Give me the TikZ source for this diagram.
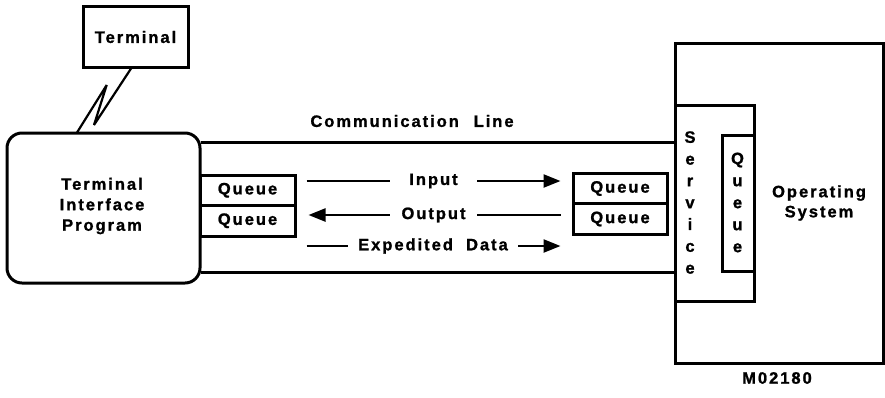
\documentclass[tikz,border=0pt]{standalone}
\usepackage{fontspec}
\setmainfont{Liberation Sans}[LetterSpace=12, BoldFeatures={FakeBold=1.2}]
\usetikzlibrary{arrows.meta}
\tikzset{
  lbl/.style={font=\bfseries\fontsize{16.5}{19}\selectfont, inner sep=0pt},
  box/.style={draw, line width=3pt, fill=white, inner sep=0pt},
  wire/.style={line width=3pt},
  flow/.style={line width=2.4pt},
  tip/.style={-{Triangle[length=17pt,width=13pt]}},
  stack/.style={lbl, align=center, font=\bfseries\fontsize{16.5}{21.8}\selectfont}
}
\begin{document}
\begin{tikzpicture}[x=1pt, y=-1pt]
\useasboundingbox (0,0) rectangle (885,397);

% terminal and terminal interface program
\node[box, minimum width=105pt, minimum height=61pt] (term) at (135.5,37) {};
\node[lbl] at (term) {Terminal};
\node[box, rounded corners=15pt, minimum width=193pt, minimum height=150pt] (tip) at (103.5,208) {};
\node[lbl, align=center, font=\bfseries\fontsize{16.5}{20.5}\selectfont] at (102,206) {Terminal\\Interface\\Program};

% link between terminal and program
\coordinate (lt) at (131.7,67.5);
\coordinate (lb) at (76.7,133);
\draw[line width=2.2pt, line join=miter, miter limit=4] (lb) -- (106.7,85) -- (94,125) -- (lt);

% operating system with its service box
\node[box, minimum width=208pt, minimum height=320pt] (os) at (779,203) {};
\node[lbl, align=center, font=\bfseries\fontsize{16.5}{20}\selectfont] at (819,203) {Operating\\System};
\node[box, minimum width=79pt, minimum height=196pt] (svc) at (714.5,203) {};
\node[box, minimum width=32pt, minimum height=136pt] (sq) at (738,203) {};
\node[stack] at (690,202.5) {S\\e\\r\\v\\i\\c\\e};
\node[stack, font=\bfseries\fontsize{16.5}{22}\selectfont] at (737.5,202.5) {Q\\u\\e\\u\\e};

% communication line
\coordinate (cltop) at (0,142.5);
\coordinate (clbot) at (0,272.5);
\draw[wire] ([xshift=-1pt]tip.east |- cltop) -- (svc.west |- cltop);
\draw[wire] ([xshift=-1pt]tip.east |- clbot) -- (svc.west |- clbot);
\node[lbl] (cl) at (412,121) {Communication\hspace{0.9em}Line};

% queues at both ends
\node[box, minimum width=95pt, minimum height=30.5pt] (lq1) at (247.5,190.25) {};
\node[box, minimum width=95pt, minimum height=30.5pt] (lq2) at (247.5,220.75) {};
\node[box, minimum width=94pt, minimum height=30.5pt] (rq1) at (620,188.5) {};
\node[box, minimum width=94pt, minimum height=30.5pt] (rq2) at (620,219) {};
\foreach \q in {lq1,lq2,rq1,rq2} \node[lbl] at (\q) {Queue};

% traffic labels
\node[lbl, minimum width=87pt] (in) at (433.5,181) {Input};
\node[lbl, minimum width=87pt] (out) at (433.5,215) {Output};
\node[lbl, minimum width=170pt] (exp) at (433,246) {Expedited\hspace{0.8em}Data};

% traffic arrows
\draw[flow] ([xshift=10pt]lq1.east |- in) -- (in.west);
\draw[flow, tip] (in.east) -- ([xshift=-11pt]rq1.west |- in);
\draw[flow, tip] (out.west) -- ([xshift=12pt]lq2.east |- out);
\draw[flow] (out.east) -- ([xshift=-11pt]rq2.west |- out);
\draw[flow] ([xshift=10pt]lq2.east |- exp) -- (exp.west);
\draw[flow, tip] (exp.east) -- ([xshift=-11pt]rq2.west |- exp);

% drawing number
\node[lbl] (num) at (777,378) {M02180};
\end{tikzpicture}
\end{document}
